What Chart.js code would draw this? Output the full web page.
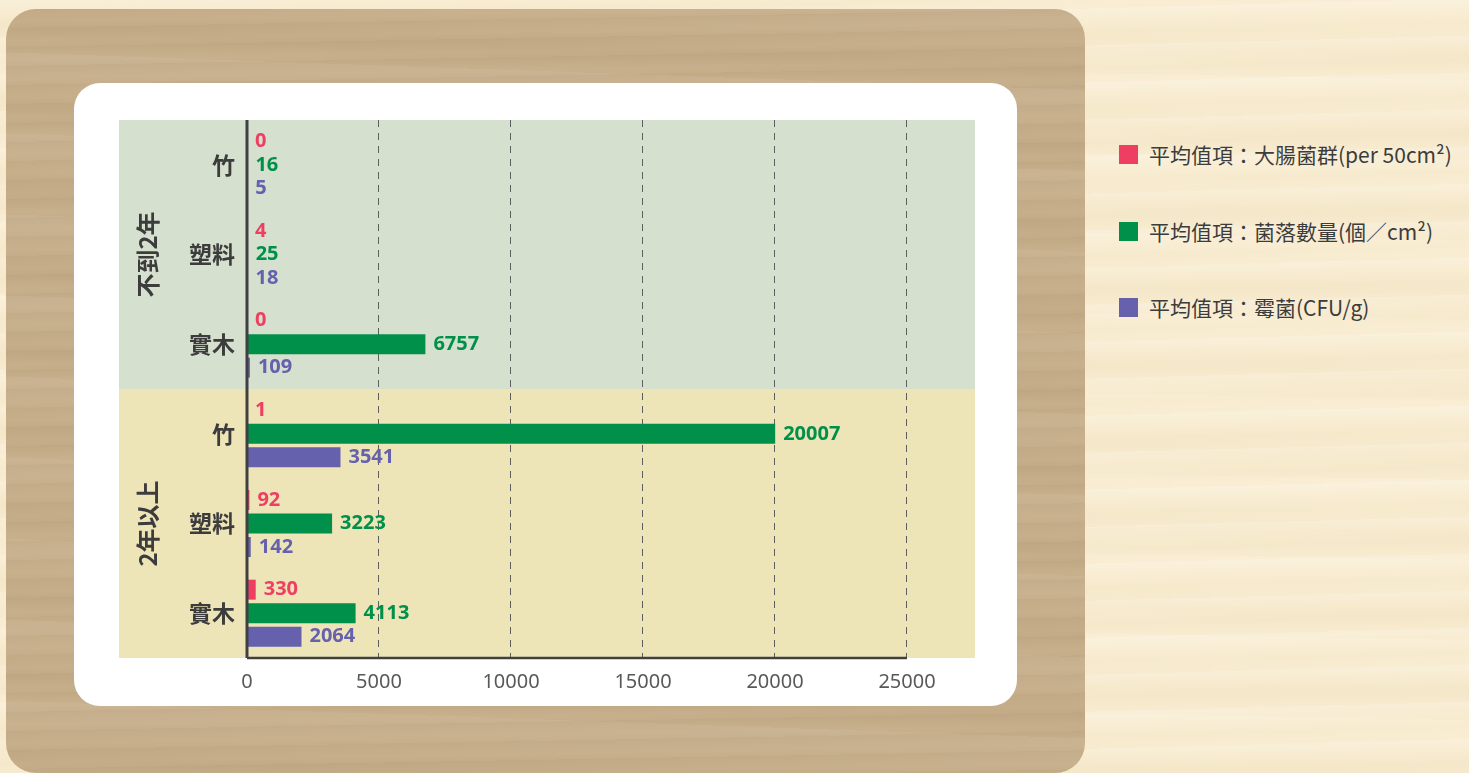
<!DOCTYPE html>
<html>
<head>
<meta charset="utf-8">
<script src="https://cdn.jsdelivr.net/npm/chart.js@4/dist/chart.umd.min.js"></script>
<style>
  html, body { margin: 0; padding: 0; }
  body {
    width: 1469px; height: 773px; overflow: hidden; position: relative;
    background-color: #f8ecd1;
    background-image:
      repeating-linear-gradient(178.5deg, rgba(255,255,255,0.18) 0px, rgba(255,255,255,0) 13px, rgba(232,210,168,0.12) 24px, rgba(255,255,255,0) 37px),
      repeating-linear-gradient(181deg, rgba(255,250,235,0.2) 0px, rgba(255,255,255,0) 29px, rgba(228,205,158,0.1) 53px, rgba(255,255,255,0) 80px);
    font-family: "Noto Sans CJK TC", "Noto Sans", sans-serif;
  }
  #panel {
    position: absolute; left: 6px; top: 9px; width: 1079px; height: 764px;
    border-radius: 30px;
    background-color: #c6ae8b;
    background-image:
      repeating-linear-gradient(179deg, rgba(150,120,80,0.07) 0px, rgba(255,255,255,0) 7px, rgba(220,200,165,0.09) 13px, rgba(255,255,255,0) 19px),
      repeating-linear-gradient(182deg, rgba(255,255,255,0.05) 0px, rgba(255,255,255,0) 33px, rgba(140,115,80,0.07) 57px, rgba(255,255,255,0) 81px);
  }
  #card {
    position: absolute; left: 74px; top: 83px; width: 943px; height: 623px;
    border-radius: 26px; background: #ffffff; overflow: hidden;
  }
  #legend { position: absolute; left: 1119px; top: 0; }
  .item { position: absolute; left: 0; white-space: nowrap; display: flex; align-items: center; height: 30px; }
  .item .box { width: 19px; height: 19px; margin-right: 11px; }
  .item span.txt { font-size: 21px; color: #3c3c3c; }
</style>
</head>
<body>
<div id="panel"></div>
<div id="card"><canvas id="barChart" width="943" height="623"></canvas></div>
<div id="legend"></div>
<script>
// sub-categories (y axis) and their age groups
var categorias = ['竹', '塑料', '實木', '竹', '塑料', '實木'];
var grupos = ['不到2年', '2年以上'];
var series = ['平均值項：大腸菌群(per 50cm²)', '平均值項：菌落數量(個／cm²)', '平均值項：霉菌(CFU/g)'];
var colores = ['#ee3f62', '#00904a', '#6561ad'];
var coliformes = [0, 4, 0, 1, 92, 330];
var colonias = [16, 25, 6757, 20007, 3223, 4113];
var mohos = [5, 18, 109, 3541, 142, 2064];
var ticksX = [0, 5000, 10000, 15000, 20000, 25000];

var BAND_LEFT = 45;
var bandas = ['#d5e0cf', '#ede4b7'];

var fondoPlugin = {
    id: 'fondo',
    beforeDraw: function (chart) {
        var ctx = chart.ctx, area = chart.chartArea, y = chart.scales.y;
        var paso = y.getPixelForValue(1) - y.getPixelForValue(0);
        ctx.save();
        grupos.forEach(function (g, i) {
            var top = y.getPixelForValue(i * 3) - paso / 2;
            var bot = y.getPixelForValue(i * 3 + 2) + paso / 2;
            ctx.fillStyle = bandas[i];
            ctx.fillRect(BAND_LEFT, top, area.right - BAND_LEFT, bot - top);
        });
        ctx.restore();
    }
};

var extrasPlugin = {
    id: 'extras',
    afterDatasetsDraw: function (chart) {
        var ctx = chart.ctx, area = chart.chartArea, x = chart.scales.x, y = chart.scales.y;
        var paso = y.getPixelForValue(1) - y.getPixelForValue(0);
        ctx.save();
        // axis lines
        ctx.strokeStyle = '#404040';
        ctx.lineWidth = 3;
        ctx.beginPath();
        ctx.moveTo(x.getPixelForValue(0), area.top);
        ctx.lineTo(x.getPixelForValue(0), area.bottom);
        ctx.stroke();
        ctx.lineWidth = 2.5;
        ctx.beginPath();
        ctx.moveTo(x.getPixelForValue(0), area.bottom);
        ctx.lineTo(x.getPixelForValue(ticksX[ticksX.length - 1]), area.bottom);
        ctx.stroke();

        // value labels
        ctx.font = 'bold 20px "Noto Sans", sans-serif';
        ctx.textBaseline = 'middle';
        ctx.textAlign = 'left';
        chart.data.datasets.forEach(function (ds, i) {
            var meta = chart.getDatasetMeta(i);
            ctx.fillStyle = ds.backgroundColor;
            meta.data.forEach(function (bar, j) {
                ctx.fillText(String(ds.data[j]), bar.x + 8, bar.y);
            });
        });

        // group labels
        ctx.font = 'bold 24px "Noto Sans CJK TC", sans-serif';
        ctx.fillStyle = '#3c3c3c';
        ctx.textAlign = 'center';
        grupos.forEach(function (g, i) {
            var top = y.getPixelForValue(i * 3) - paso / 2;
            var bot = y.getPixelForValue(i * 3 + 2) + paso / 2;
            ctx.save();
            ctx.translate(74, (top + bot) / 2);
            ctx.rotate(-Math.PI / 2);
            ctx.fillText(g, 0, 0);
            ctx.restore();
        });
        ctx.restore();
    }
};

var datos = [coliformes, colonias, mohos];

var cv = document.getElementById('barChart');
var grafico = new Chart(cv, {
    type: 'bar',
    data: {
        labels: categorias,
        datasets: datos.map(function (d, i) {
            return {
                label: series[i],
                data: d,
                backgroundColor: colores[i],
                categoryPercentage: 0.786,
                barPercentage: 0.85
            };
        })
    },
    options: {
        indexAxis: 'y',
        responsive: false,
        animation: false,
        layout: { padding: { top: 37, right: 42, bottom: 0, left: 0 } },
        plugins: {
            legend: { display: false },
            tooltip: { enabled: false }
        },
        scales: {
            x: {
                min: 0,
                max: 27576,
                afterBuildTicks: function (s) { s.ticks = ticksX.map(function (v) { return { value: v }; }); },
                afterFit: function (s) { s.height = 48; },
                grid: {
                    drawTicks: false,
                    lineWidth: 1,
                    color: function (c) { return c.tick && c.tick.value === 0 ? 'rgba(0,0,0,0)' : '#5e5e5e'; }
                },
                border: { display: false, dash: [7, 6] },
                ticks: {
                    padding: 12,
                    color: '#595959',
                    font: { family: '"Noto Sans", sans-serif', size: 20 },
                    callback: function (v) { return String(v); }
                }
            },
            y: {
                afterFit: function (s) { s.width = 173; },
                grid: { display: false, drawTicks: false },
                border: { display: false },
                ticks: {
                    autoSkip: false,
                    padding: 12,
                    color: '#3c3c3c',
                    font: { family: '"Noto Sans CJK TC", sans-serif', size: 23, weight: 'bold' }
                }
            }
        }
    },
    plugins: [fondoPlugin, extrasPlugin]
});

// legend built from the chart datasets
var leyenda = document.getElementById('legend');
var filasY = [154, 231, 307];
grafico.data.datasets.forEach(function (ds, i) {
    var el = document.createElement('div');
    el.className = 'item';
    el.style.top = (filasY[i] - 15) + 'px';
    el.innerHTML = '<div class="box" style="background:' + ds.backgroundColor + '"></div><span class="txt"></span>';
    el.querySelector('.txt').textContent = ds.label;
    leyenda.appendChild(el);
});
</script>
</body>
</html>
